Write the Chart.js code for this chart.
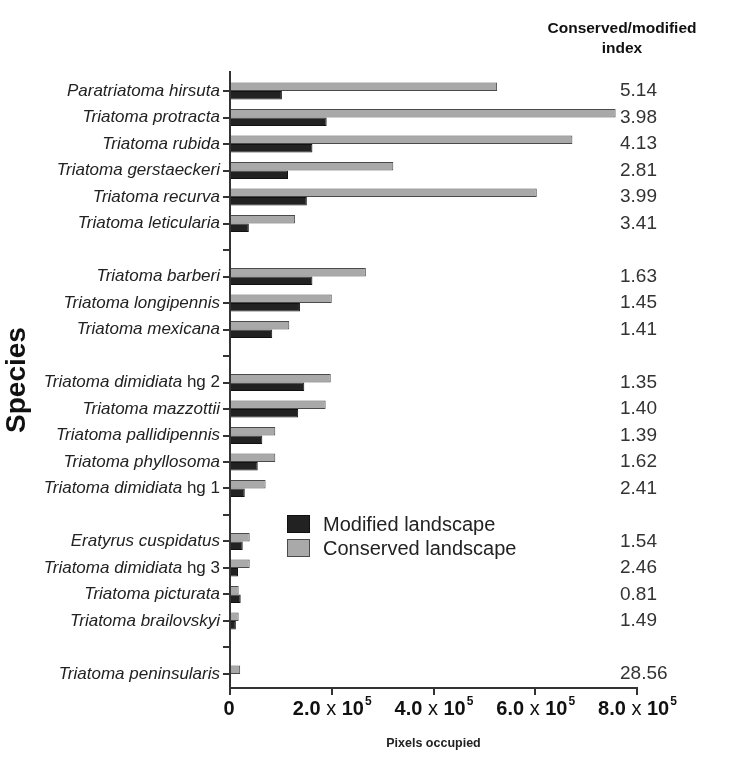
<!DOCTYPE html>
<html><head><meta charset="utf-8">
<script src="https://cdn.jsdelivr.net/npm/chart.js@4.4.0/dist/chart.umd.min.js"></script>
<style>html,body{margin:0;padding:0;background:#fff;}</style>
</head><body>
<canvas id="c" width="750" height="761"></canvas>
<script>
// ---- data ----
const species = [
  'Paratriatoma hirsuta','Triatoma protracta','Triatoma rubida','Triatoma gerstaeckeri','Triatoma recurva','Triatoma leticularia',
  '',
  'Triatoma barberi','Triatoma longipennis','Triatoma mexicana',
  '',
  'Triatoma dimidiata hg 2','Triatoma mazzottii','Triatoma pallidipennis','Triatoma phyllosoma','Triatoma dimidiata hg 1',
  '',
  'Eratyrus cuspidatus','Triatoma dimidiata hg 3','Triatoma picturata','Triatoma brailovskyi',
  '',
  'Triatoma peninsularis'
];
const conserved = [525000,758000,673000,321000,603000,128000, null, 267000,200000,116500, null, 198000,188000,89000,89000,70000, null, 38700,38700,17000,17000, null, 20000];
const modified  = [102000,190000,162000,114000,151000,37000, null, 162000,137500,83000, null, 146000,134000,63500,54500,29000, null, 25000,15700,21000,11500, null, 700];
const indexLabels = ['5.14','3.98','4.13','2.81','3.99','3.41','', '1.63','1.45','1.41','', '1.35','1.40','1.39','1.62','2.41','', '1.54','2.46','0.81','1.49','', '28.56'];
const xTickValues = [0, 200000, 400000, 600000, 800000];
const xTickMantissa = ['0','2.0','4.0','6.0','8.0'];
const seriesNames = ['Modified landscape','Conserved landscape'];
const indexHeader = ['Conserved/modified','index'];

// ---- styles ----
const FONT = '"Liberation Sans", Arial, sans-serif';
const TEXT = '#222';
const GRAY = '#a9a9a9', GRAY_B = '#4a4a4a';
const DARK = '#222222', DARK_B = '#111111';

function pts(arr){ return arr.map((v,i)=>({x:v, y:i})).filter(p=>p.x!==null); }

const annotate = {
  id:'annotate',
  afterDraw(chart){
    const ctx = chart.ctx, y = chart.scales.y, x = chart.scales.x, ca = chart.chartArea;
    ctx.save();
    ctx.fillStyle = TEXT;
    ctx.textBaseline = 'middle';
    // species labels (italic genus/species, roman "hg n")
    species.forEach((s,i)=>{
      if(!s) return;
      const py = y.getPixelForValue(i);
      const m = s.match(/^(.*?)( hg \d+)$/);
      let it = s, nm = '';
      if(m){ it = m[1]; nm = m[2]; }
      let px = ca.left - 10;
      ctx.textAlign = 'right';
      if(nm){ ctx.font = '17px '+FONT; ctx.fillText(nm, px, py); px -= ctx.measureText(nm).width; }
      ctx.font = 'italic 17px '+FONT; ctx.fillText(it, px, py);
    });
    // index column
    ctx.textAlign = 'left';
    ctx.font = '19px '+FONT;
    ctx.fillStyle = '#333';
    indexLabels.forEach((t,i)=>{ if(t) ctx.fillText(t, ca.right - 17, y.getPixelForValue(i)); });
    // header
    ctx.fillStyle = '#111';
    ctx.textAlign = 'center';
    ctx.font = 'bold 15.5px '+FONT;
    ctx.fillText(indexHeader[0], ca.right - 15, 29);
    ctx.fillText(indexHeader[1], ca.right - 15, 49);
    // x tick labels
    const ty = ca.bottom + 21;
    xTickValues.forEach((v,i)=>{
      const px = x.getPixelForValue(v);
      const man = xTickMantissa[i];
      ctx.textAlign = 'left';
      if(v===0){
        ctx.font = 'bold 20px '+FONT;
        const w = ctx.measureText(man).width;
        ctx.fillText(man, px - w/2 - 1, ty);
        return;
      }
      ctx.font = 'bold 20px '+FONT; const w1 = ctx.measureText(man).width;
      ctx.font = '20px '+FONT; const w2 = ctx.measureText(' x ').width;
      ctx.font = 'bold 20px '+FONT; const w3 = ctx.measureText('10').width;
      ctx.font = 'bold 12px '+FONT; const w4 = ctx.measureText('5').width;
      let sx = px - (w1+w2+w3+w4)/2;
      ctx.font = 'bold 20px '+FONT; ctx.fillText(man, sx, ty); sx += w1;
      ctx.font = '20px '+FONT; ctx.fillText(' x ', sx, ty); sx += w2;
      ctx.font = 'bold 20px '+FONT; ctx.fillText('10', sx, ty); sx += w3;
      ctx.font = 'bold 12px '+FONT; ctx.fillText('5', sx + 1, ty - 7);
    });
    // legend
    const lx = ca.left + 57, ly = [515, 539];
    const fills = [DARK, GRAY], borders = [DARK_B, GRAY_B];
    seriesNames.forEach((n,i)=>{
      ctx.fillStyle = fills[i]; ctx.strokeStyle = borders[i]; ctx.lineWidth = 1;
      ctx.fillRect(lx, ly[i], 23, 18); ctx.strokeRect(lx+0.5, ly[i]+0.5, 22, 17);
      ctx.fillStyle = TEXT; ctx.textAlign = 'left'; ctx.font = '20px '+FONT;
      ctx.fillText(n, lx + 36, ly[i] + 10);
    });
    ctx.restore();
  }
};

new Chart(document.getElementById('c'), {
  type:'bar',
  data:{
    datasets:[
      {label:seriesNames[1], data:pts(conserved), backgroundColor:GRAY, borderColor:GRAY_B, borderWidth:1, categoryPercentage:0.64, barPercentage:1.0},
      {label:seriesNames[0], data:pts(modified), backgroundColor:DARK, borderColor:DARK_B, borderWidth:1, categoryPercentage:0.64, barPercentage:1.0}
    ]
  },
  options:{
    indexAxis:'y',
    responsive:false,
    animation:false,
    layout:{padding:{top:72, right:113, left:0, bottom:0}},
    plugins:{legend:{display:false}, tooltip:{enabled:false}},
    scales:{
      y:{
        type:'linear', reverse:true, offset:false, min:-0.72, max:species.length - 0.47,
        afterBuildTicks(s){ s.ticks = species.map((_,i)=>({value:i})); },
        afterFit(s){ s.width = 230; },
        ticks:{display:false},
        grid:{drawOnChartArea:false, drawTicks:true, tickLength:7, color:'#333', lineWidth:2, offset:false},
        border:{display:true, color:'#333', width:2},
        title:{display:true, text:'Species', font:{family:FONT, size:28, weight:'bold'}, color:'#111', padding:{top:0,bottom:0}}
      },
      x:{
        type:'linear', min:0, max:800000,
        afterBuildTicks(s){ s.ticks = xTickValues.map(v=>({value:v})); },
        afterFit(s){ s.height = 73; },
        ticks:{display:false},
        grid:{drawOnChartArea:false, drawTicks:true, tickLength:7, color:'#333', lineWidth:2},
        border:{display:true, color:'#333', width:2},
        title:{display:true, text:'Pixels occupied', font:{family:FONT, size:12.5, weight:'bold'}, color:'#222', padding:{top:0,bottom:10}}
      }
    }
  },
  plugins:[annotate]
});
</script>
</body></html>
